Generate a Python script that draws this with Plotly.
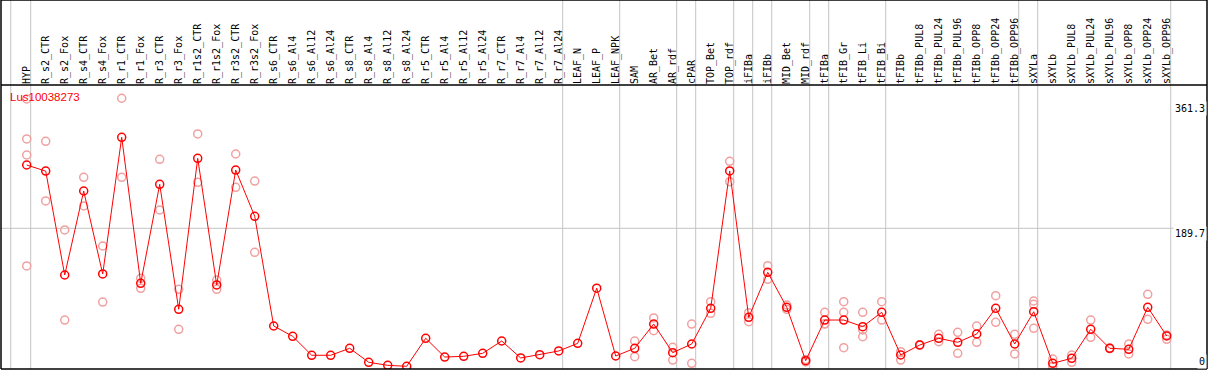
import plotly.graph_objects as go

categories = ["HYP", "R_s2_CTR", "R_s2_Fox", "R_s4_CTR", "R_s4_Fox", "R_r1_CTR", "R_r1_Fox",
              "R_r3_CTR", "R_r3_Fox", "R_r1s2_CTR", "R_r1s2_Fox", "R_r3s2_CTR", "R_r3s2_Fox",
              "R_s6_CTR", "R_s6_Al4", "R_s6_Al12", "R_s6_Al24", "R_s8_CTR", "R_s8_Al4",
              "R_s8_Al12", "R_s8_Al24", "R_r5_CTR", "R_r5_Al4", "R_r5_Al12", "R_r5_Al24",
              "R_r7_CTR", "R_r7_Al4", "R_r7_Al12", "R_r7_Al24", "LEAF_N", "LEAF_P", "LEAF_NPK",
              "SAM", "AR_Bet", "AR_rdf", "cPAR", "TOP_Bet", "TOP_rdf", "iFIBa", "iFIBb",
              "MID_Bet", "MID_rdf", "tFIBa", "tFIB_Gr", "tFIB_Li", "tFIB_Bi", "tFIBb",
              "tFIBb_PUL8", "tFIBb_PUL24", "tFIBb_PUL96", "tFIBb_OPP8", "tFIBb_OPP24",
              "tFIBb_OPP96", "sXYLa", "sXYLb", "sXYLb_PUL8", "sXYLb_PUL24", "sXYLb_PUL96",
              "sXYLb_OPP8", "sXYLb_OPP24", "sXYLb_OPP96"]

mean_values = [276.6, 268.2, 125.6, 240.9, 127.0, 314.6, 114.2, 250.1, 78.5, 285.8, 111.9,
               269.7, 206.2, 55.6, 41.4, 15.4, 15.4, 25.0, 5.8, 1.6, 0.3, 38.7, 13.0, 14.0,
               18.1, 35.0, 11.7, 16.2, 21.3, 31.8, 107.5, 14.4, 25.0, 58.3, 19.0, 30.9, 79.9,
               268.4, 67.5, 129.3, 81.3, 8.0, 63.8, 63.8, 54.7, 74.4, 15.8, 29.5, 38.7, 33.2,
               44.6, 79.9, 30.9, 75.2, 4.4, 11.3, 51.1, 25.0, 23.6, 81.3, 41.9]

replicates = [
    [367.2, 312.3, 290.3, 138.0], [309.1, 227.2], [187.4, 63.8], [259.7, 220.3],
    [165.4, 88.5], [368.2, 259.7], [121.1, 107.3], [284.4, 214.8], [106.0, 51.1],
    [319.2, 252.8], [118.7, 106.0], [291.7, 246.0], [254.6, 156.8],
    [], [], [], [], [], [], [], [], [], [], [], [], [], [], [], [], [], [], [],
    [35.0, 13.5], [66.6, 49.1], [26.3, 8.9], [58.3, 4.4], [89.0, 73.0], [281.7, 253.7],
    [73.9, 61.5], [138.4, 119.7], [84.4, 78.5], [9.5, 6.5], [74.4, 58.3, 58.7],
    [89.0, 74.4, 25.8], [74.4, 50.1, 40.9], [89.0, 63.8], [20.3, 8.9], [30.0, 29.0],
    [44.2, 34.1], [46.9, 18.1], [55.6, 33.2], [97.2, 60.7], [44.2, 17.2],
    [89.9, 85.4, 52.4], [10.3, 0.0], [15.8, 5.8], [63.8, 40.1], [25.5, 24.5],
    [30.9, 17.2], [99.1, 64.8], [43.2, 37.3]]

group_ends = [-1, 0, 28, 31, 34, 35, 37, 38, 39, 41, 42, 45, 52, 53, 60]
y_labels = [361.3, 189.7, 0]
title_text = "Lus10038273"

rep_x, rep_y = [], []
for cat, reps in zip(categories, replicates):
    for v in reps:
        rep_x.append(cat)
        rep_y.append(v)

fig = go.Figure()
fig.add_trace(go.Scatter(x=rep_x, y=rep_y, mode="markers",
                         marker=dict(symbol="circle-open", size=8, color="#f0a0a0",
                                     line=dict(width=1.5, color="#f0a0a0")),
                         hoverinfo="skip", showlegend=False))
fig.add_trace(go.Scatter(x=categories, y=mean_values, mode="lines+markers",
                         line=dict(color="#ff0000", width=1),
                         marker=dict(symbol="circle-open", size=8, color="#ff0000",
                                     line=dict(width=1.5, color="#ff0000")),
                         showlegend=False))

H_PLOT = 284.0
TOP_EXT = 1 + 85.0 / H_PLOT
shapes = []
for g in group_ends:
    xv = g + 0.21 if g >= 0 else -0.84
    shapes.append(dict(type="line", xref="x", yref="paper", x0=xv, x1=xv, y0=0, y1=TOP_EXT,
                       line=dict(color="#c4c4c4", width=1), layer="below"))
shapes.append(dict(type="line", xref="paper", yref="y", x0=0, x1=1, y0=y_labels[1],
                   y1=y_labels[1], line=dict(color="#c4c4c4", width=1), layer="below"))
# frame
for (x0, x1, y0, y1) in [(0, 0, 0, TOP_EXT), (1, 1, 0, TOP_EXT), (0, 1, 1, 1), (0, 1, 0, 0),
                         (0, 1, TOP_EXT, TOP_EXT)]:
    shapes.append(dict(type="line", xref="paper", yref="paper", x0=x0, x1=x1, y0=y0, y1=y1,
                       line=dict(color="black", width=1.5)))

annotations = [dict(text=title_text, xref="paper", yref="paper", x=0, y=1, xanchor="left",
                    yanchor="top", xshift=7, yshift=-4, showarrow=False,
                    font=dict(family="Liberation Sans, Arial", size=11.5, color="#ff0000"))]
for v, anc, ys in zip(y_labels, ["top", "top", "bottom"], [2, 2, -2]):
    annotations.append(dict(text=f"{v:g}" if v else "0", xref="paper", yref="y", x=1, y=v,
                            xanchor="right", yanchor=anc, yshift=ys, xshift=0, showarrow=False,
                            bgcolor="white", borderpad=1,
                            font=dict(family="DejaVu Sans Mono", size=10, color="black")))

fig.update_layout(
    width=1209, height=370,
    margin=dict(l=1, r=2, t=85, b=1),
    paper_bgcolor="white", plot_bgcolor="white",
    shapes=shapes, annotations=annotations,
    xaxis=dict(type="category", categoryorder="array", categoryarray=categories,
               range=[-1.353, 62.12], side="top", tickangle=-90, showgrid=False,
               zeroline=False, ticks="", showline=False, automargin=False,
               tickfont=dict(family="DejaVu Sans Mono", size=10, color="black")),
    yaxis=dict(range=[-3.43, 386.4], showgrid=False, zeroline=False, showticklabels=False,
               showline=False, automargin=False),
)

fig.write_html("out.html", config={"displayModeBar": False},
               post_script="document.body.style.margin='0px';")
